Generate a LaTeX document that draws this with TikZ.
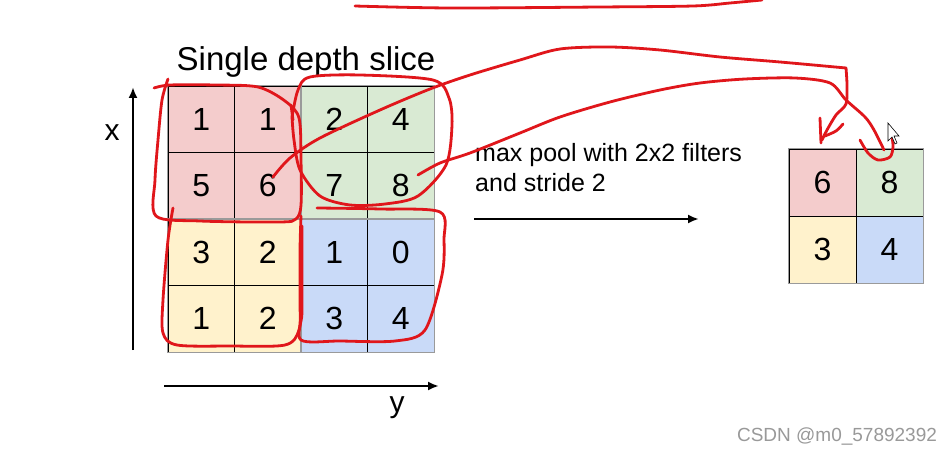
\documentclass[tikz,border=0pt]{standalone}
\usepackage{fontspec}
\setmainfont{Liberation Sans}
\usetikzlibrary{arrows.meta}
\definecolor{cred}{HTML}{F4CCCC}
\definecolor{cgreen}{HTML}{D9EAD3}
\definecolor{cyellow}{HTML}{FFF2CC}
\definecolor{cblue}{HTML}{C9DAF8}
\definecolor{ink}{HTML}{E0161B}
\definecolor{gridgray}{HTML}{9A9A9A}
\begin{document}
\begin{tikzpicture}[x=1pt,y=-1pt,
  cell/.style={minimum size=66.5pt, inner sep=0pt, draw=black, line width=0.8pt, font=\fontsize{32}{34}\selectfont},
  ocell/.style={cell, minimum size=67pt},
  quad/.style={draw=gridgray, line width=1pt},
  axis/.style={line width=2.6pt, -{Latex[length=11pt,width=9pt]}},
  scribble/.style={draw=ink, line width=2.8pt, line cap=round, line join=round},
  lbl/.style={inner sep=0pt, anchor=base west, align=left}]
\useasboundingbox (0,0) rectangle (951,457);
\fill[white] (0,0) rectangle (951,457);

% title
\node[inner sep=0pt, font=\fontsize{33}{38}\selectfont] (title) at (306,62) {Single depth slice};

% input grid
\node[cell, fill=cred]    (a11) at (201.3,119.3) {1};
\node[cell, fill=cred]    (a12) at (267.8,119.3) {1};
\node[cell, fill=cgreen]  (a13) at (334.3,119.3) {2};
\node[cell, fill=cgreen]  (a14) at (400.8,119.3) {4};
\node[cell, fill=cred]    (a21) at (201.3,185.8) {5};
\node[cell, fill=cred]    (a22) at (267.8,185.8) {6};
\node[cell, fill=cgreen]  (a23) at (334.3,185.8) {7};
\node[cell, fill=cgreen]  (a24) at (400.8,185.8) {8};
\node[cell, fill=cyellow] (a31) at (201.3,252.3) {3};
\node[cell, fill=cyellow] (a32) at (267.8,252.3) {2};
\node[cell, fill=cblue]   (a33) at (334.3,252.3) {1};
\node[cell, fill=cblue]   (a34) at (400.8,252.3) {0};
\node[cell, fill=cyellow] (a41) at (201.3,318.8) {1};
\node[cell, fill=cyellow] (a42) at (267.8,318.8) {2};
\node[cell, fill=cblue]   (a43) at (334.3,318.8) {3};
\node[cell, fill=cblue]   (a44) at (400.8,318.8) {4};
\draw[quad] (a11.north west) rectangle (a22.south east);
\draw[quad] (a13.north west) rectangle (a24.south east);
\draw[quad] (a31.north west) rectangle (a42.south east);
\draw[quad] (a33.north west) rectangle (a44.south east);

% axes
\coordinate (xs) at (133,350);
\coordinate (xe) at (133,87);
\coordinate (ys) at (164,386);
\coordinate (ye) at (439,386);
\draw[axis] (xs) -- (xe);
\draw[axis] (ys) -- (ye);
\node[inner sep=0pt, font=\fontsize{30}{32}\selectfont] (xl) at (112,133) {x};
\node[inner sep=0pt, font=\fontsize{30}{32}\selectfont] (yl) at (397,408) {y};

% operation label
\node[lbl, font=\fontsize{25}{30}\selectfont] (op) at (475,192) {max pool with 2x2 filters\\and stride 2};
\coordinate (ps) at (474,219);
\coordinate (pe) at (699,219);
\draw[line width=2.6pt, -{Latex[length=11pt,width=9pt]}] (ps) -- (pe);

% output grid
\node[ocell, fill=cred]    (b11) at (822.5,182.5) {6};
\node[ocell, fill=cgreen]  (b12) at (889.5,182.5) {8};
\node[ocell, fill=cyellow] (b21) at (822.5,249.5) {3};
\node[ocell, fill=cblue]   (b22) at (889.5,249.5) {4};
\draw[quad] (b11.north west) rectangle (b22.south east);

% red hand-drawn marks
\draw[scribble] plot[smooth, tension=0.5] coordinates {(355,6) (450,8) (600,7) (693,6) (730,3) (762,0)};
% red block loop
\draw[scribble] plot[smooth, tension=0.5] coordinates {(154,88) (170,85) (215,85) (258,87) (285,101) (299,118) (301,160) (301,205) (296,219) (280,222) (200,221) (156,216) (155,180) (158,140) (162,100) (168,79)};
\draw[scribble] (291,105) -- (293,120);
% yellow block loop
\draw[scribble] plot[smooth, tension=0.5] coordinates {(173,208) (168,240) (163,300) (163,333) (177,345) (230,346) (285,345) (299,330) (300,300) (300,250) (301,216)};
% green block loop
\draw[scribble] plot[smooth, tension=0.5] coordinates {(292,117) (298,90) (310,77) (360,75) (433,80) (449,98) (452,125) (446,165) (418,196) (385,204) (350,205) (320,196) (300,170) (294,140) (292,117)};
% blue block loop
\draw[scribble] plot[smooth, tension=0.5] coordinates {(317,208) (380,209) (440,212) (444,240) (442,275) (425,330) (395,341) (340,341) (301,340) (302,313) (302,270) (302,226)};
% stroke from 6 to output
\draw[scribble] plot[smooth, tension=0.5] coordinates {(273,177) (290,158) (320,138) (380,110) (430,89) (470,75) (520,60) (560,49) (610,47) (660,50) (720,57) (780,62) (846,68)};
\draw[scribble] plot[smooth, tension=0.5] coordinates {(846,68) (847,85) (846,104) (836,115) (827,130) (822,140)};
\draw[scribble] (820,118) -- (821,143);
\draw[scribble] plot[smooth, tension=0.5] coordinates {(843,124) (836,131) (825,136)};
% stroke from 8 to output
\draw[scribble] plot[smooth, tension=0.5] coordinates {(418,175) (440,163) (470,153) (520,133) (560,117) (610,102) (660,90) (700,83) (745,79) (795,78) (830,83) (846,100) (865,117) (874,130) (884,150)};
\draw[scribble] plot[smooth, tension=0.5] coordinates {(860,140) (868,153) (878,160) (890,157) (893,147) (892,137)};
% mouse cursor
\draw[black, line width=0.6pt, fill=white] (888,123) -- (888,141) -- (892,137) -- (895,144) -- (897,143) -- (894,136) -- (899,136) -- cycle;

% watermark
\node[inner sep=0pt, text=gray!80, font=\fontsize{19}{22}\selectfont] (wm) at (837,437) {CSDN @m0\_57892392};
\end{tikzpicture}
\end{document}
